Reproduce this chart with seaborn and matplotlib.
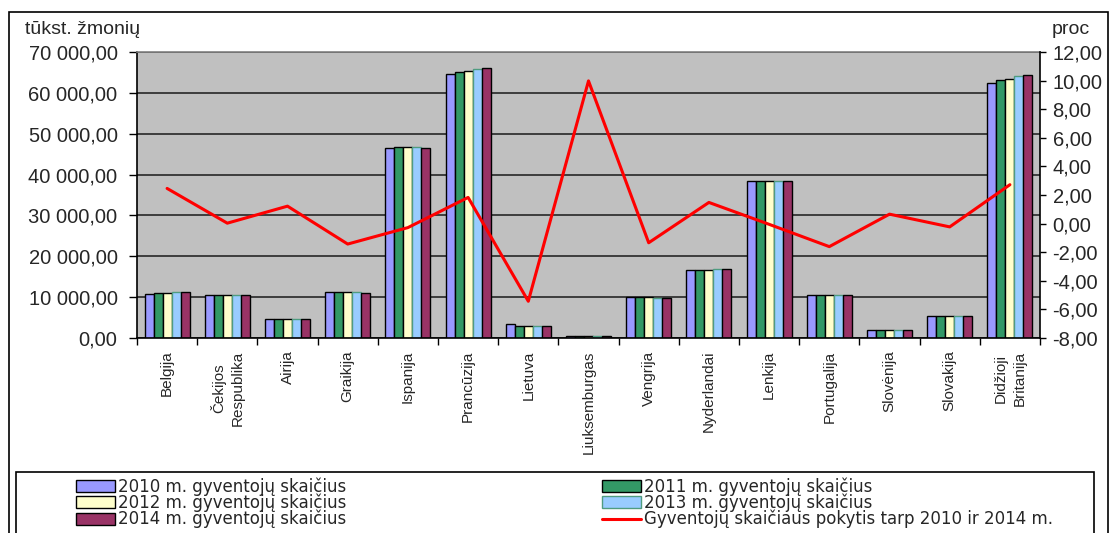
import numpy as np
import pandas as pd
import matplotlib
matplotlib.use("Agg")
import matplotlib.pyplot as plt
import seaborn as sns
from matplotlib.patches import Patch, Rectangle
from matplotlib.lines import Line2D
from matplotlib.ticker import FuncFormatter, MultipleLocator

# --- data (thousand people; change in percent) ---
countries = ["Belgija", "Čekijos\nRespublika", "Airija", "Graikija", "Ispanija",
             "Prancūzija", "Lietuva", "Liuksemburgas", "Vengrija", "Nyderlandai",
             "Lenkija", "Portugalija", "Slovėnija", "Slovakija", "Didžioji\nBritanija"]
years = ["2010", "2011", "2012", "2013", "2014"]

pop_2010 = [10840, 10507, 4550, 11183, 46487, 64615, 3329, 502, 10014, 16575, 38530, 10573, 2047, 5425, 62490]
pop_2011 = [10951, 10487, 4575, 11183, 46667, 65105, 3053, 512, 9986, 16656, 38530, 10572, 2050, 5392, 63150]
pop_2012 = [11095, 10505, 4583, 11183, 46818, 65350, 3004, 525, 9932, 16730, 38540, 10542, 2056, 5404, 63390]
pop_2013 = [11161, 10516, 4592, 11150, 46728, 65839, 2972, 537, 9909, 16780, 38500, 10487, 2059, 5411, 64050]
pop_2014 = [11204, 10512, 4606, 10927, 46508, 66084, 2943, 550, 9877, 16829, 38480, 10427, 2061, 5416, 64370]
change_pct = [2.46, 0.03, 1.22, -1.43, -0.28, 1.83, -5.43, 9.98, -1.34, 1.48, -0.05, -1.61, 0.66, -0.23, 2.72]

bar_labels = ["2010 m. gyventojų skaičius", "2011 m. gyventojų skaičius",
              "2012 m. gyventojų skaičius", "2013 m. gyventojų skaičius",
              "2014 m. gyventojų skaičius"]
line_label = "Gyventojų skaičiaus pokytis tarp 2010 ir 2014 m."
left_unit = "tūkst. žmonių"
right_unit = "proc"

bar_colors = ["#9999FF", "#339966", "#FFFFCC", "#99CCFF", "#993366"]
line_color = "#FF0000"

df = pd.DataFrame({
    "country": np.tile(countries, len(years)),
    "year": np.repeat(years, len(countries)),
    "value": np.concatenate([pop_2010, pop_2011, pop_2012, pop_2013, pop_2014]),
})

sns.set_theme(style="ticks")
plt.rcParams["font.family"] = ["Liberation Sans", "DejaVu Sans"]

fig = plt.figure(figsize=(11.1, 5.33), dpi=100)
ax = fig.add_axes([137 / 1110, 1 - 338 / 533, (1040 - 137) / 1110, 286 / 533])
ax.set_facecolor("#C0C0C0")
ax.set_axisbelow(True)

sns.barplot(data=df, x="country", y="value", hue="year", order=countries,
            hue_order=years, palette=dict(zip(years, bar_colors)), saturation=1,
            width=0.75, gap=0, edgecolor="black", linewidth=1, legend=False, ax=ax)
for patch in ax.containers[3]:
    patch.set_edgecolor("#4f9c80")

ax.set_xlim(-0.5, len(countries) - 0.5)
ax.set_ylim(0, 70000)
ax.yaxis.set_major_locator(MultipleLocator(10000))
ax.yaxis.set_major_formatter(FuncFormatter(
    lambda v, p: f"{v:,.2f}".replace(",", " ").replace(".", ",")))
ax.yaxis.grid(True, color="#1a1a1a", linewidth=1.1)
ax.set_xlabel("")
ax.set_ylabel("")

ax.set_xticks(range(len(countries)))
ax.set_xticklabels(countries, rotation=90, fontsize=11, va="top", ha="center",
                   multialignment="center", linespacing=1.45)
ax.set_xticks(np.arange(-0.5, len(countries), 1), minor=True)
ax.tick_params(axis="x", which="major", length=0, pad=9)
ax.tick_params(axis="x", which="minor", length=5, width=1, color="black",
               direction="out", bottom=True)
ax.tick_params(axis="y", which="major", length=6, width=1, color="black",
               direction="out", pad=8, labelsize=14.5, left=True)

for side in ["left", "bottom"]:
    ax.spines[side].set_color("black")
    ax.spines[side].set_linewidth(1.2)
ax.spines["right"].set_visible(False)
ax.spines["top"].set_color("#808080")
ax.spines["top"].set_linewidth(1.2)

ax2 = ax.twinx()
sns.lineplot(x=np.arange(len(countries)), y=change_pct, ax=ax2, color=line_color,
             linewidth=2.2, legend=False)
ax2.set_ylim(-8, 12)
ax2.yaxis.set_major_locator(MultipleLocator(2))
ax2.yaxis.set_major_formatter(FuncFormatter(lambda v, p: f"{v:.2f}".replace(".", ",")))
ax2.tick_params(axis="y", which="major", length=4, width=1, color="black",
                direction="out", pad=5, labelsize=14.5, right=True)
ax2.set_ylabel("")
for side in ["left", "top", "bottom"]:
    ax2.spines[side].set_visible(False)
ax2.spines["right"].set_color("black")
ax2.spines["right"].set_linewidth(1.2)
ax2.set_xlim(-0.5, len(countries) - 0.5)

fig.text(25 / 1110, 1 - 34 / 533, left_unit, fontsize=14, va="baseline", ha="left")
fig.text(1052 / 1110, 1 - 34 / 533, right_unit, fontsize=14, va="baseline", ha="left")

# outer chart frame and legend frame
fig.add_artist(Rectangle((9 / 1110, -0.2), (1108 - 9) / 1110, 0.2 + 1 - 12 / 533,
                         transform=fig.transFigure, fill=False, edgecolor="black",
                         linewidth=1.2, clip_on=False))
fig.add_artist(Rectangle((16 / 1110, -0.2), (1094 - 16) / 1110, 0.2 + 1 - 472 / 533,
                         transform=fig.transFigure, fill=False, edgecolor="black",
                         linewidth=1.2, clip_on=False))

handles = [Patch(facecolor=c, edgecolor="black", linewidth=1) for c in bar_colors]
handles[3] = Patch(facecolor=bar_colors[3], edgecolor="#4f9c80", linewidth=1)
line_handle = Line2D([], [], color=line_color, linewidth=2.2)

leg_kw = dict(loc="upper left", frameon=False, prop={"family": "DejaVu Sans", "size": 12},
              handlelength=2.35, handleheight=0.7, handletextpad=0.2,
              labelspacing=-0.12, borderpad=0, borderaxespad=0)
fig.legend(handles=[handles[0], handles[2], handles[4]],
           labels=[bar_labels[0], bar_labels[2], bar_labels[4]],
           bbox_to_anchor=(76 / 1110, 1 - 477 / 533), **leg_kw)
fig.legend(handles=[handles[1], handles[3], line_handle],
           labels=[bar_labels[1], bar_labels[3], line_label],
           bbox_to_anchor=(602 / 1110, 1 - 477 / 533), **leg_kw)

fig.savefig("out.png", dpi=100)
